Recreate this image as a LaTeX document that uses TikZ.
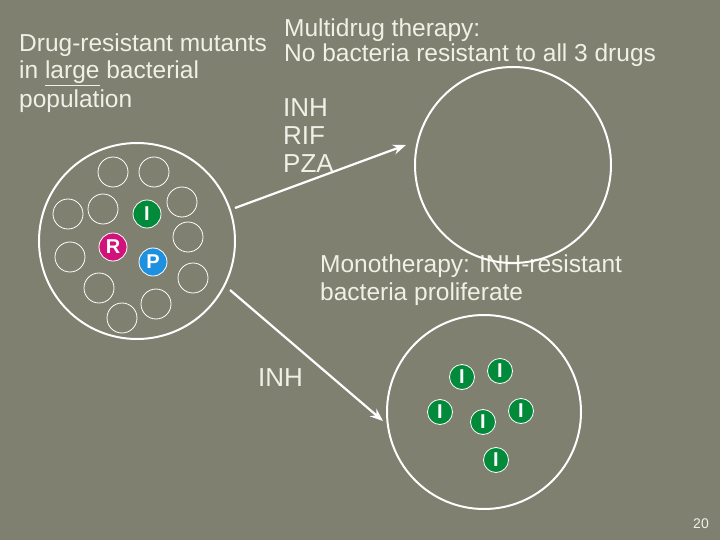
\documentclass[tikz,border=0pt]{standalone}
\usepackage{fontspec}
\setmainfont{Liberation Sans}
\usetikzlibrary{arrows.meta}
\begin{document}
\begin{tikzpicture}[x=1pt,y=-1pt,
  txt/.style={text=fg,font=\fontsize{24.5}{27}\selectfont,inner sep=0pt,anchor=west},
  big/.style={text=fg,font=\fontsize{26}{28}\selectfont,inner sep=0pt,anchor=west},
  cell/.style={circle,draw=white,line width=0.8pt,minimum size=30pt,inner sep=0pt},
  mut/.style={circle,draw=white,line width=0.8pt,minimum size=28pt,inner sep=0pt,text=white,font=\fontsize{20}{20}\selectfont\bfseries},
  host/.style={circle,draw=white,line width=2pt,inner sep=0pt},
  arr/.style={draw=white,line width=2.2pt,-{Stealth[length=13pt,width=10pt]}}]
\definecolor{bg}{HTML}{7F806F}
\definecolor{fg}{HTML}{F0F0E6}
\definecolor{gI}{HTML}{008A3A}
\definecolor{mR}{HTML}{D0127A}
\definecolor{bP}{HTML}{1E90E0}
\fill[bg] (0,0) rectangle (720,540);
\useasboundingbox (0,0) rectangle (720,540);
\node[txt] (t1) at (19,45) {Drug-resistant mutants};
\node[txt] (t2) at (19,73) {in \underline{large} bacterial};
\node[txt] (t3) at (19,101) {population};
\node[txt] (m1) at (284,30) {Multidrug therapy:};
\node[txt] (m2) at (284,55) {No bacteria resistant to all 3 drugs};
\node[big] (d1) at (283,108) {INH};
\node[big] (d2) at (283,136) {RIF};
\node[big] (d3) at (283,164) {PZA};
\node[txt] (o1) at (320,266) {Monotherapy: INH-resistant};
\node[txt] (o2) at (320,294) {bacteria proliferate};
\node[big] (d4) at (258,378) {INH};
\node[text=fg,font=\fontsize{14}{16}\selectfont,inner sep=0pt] (pg) at (701,524) {20};
\node[host,minimum size=196pt] (A) at (137,241) {};
\node[host,minimum size=196pt] (B) at (513,165) {};
\node[host,minimum size=194pt] (C) at (484,412) {};
\foreach \n/\p in {c1/{113,172},c2/{154,172},c3/{182,202},c4/{68,214},c5/{103,209},c6/{188,237},c7/{70,257},c8/{193,278},c9/{99,288},c10/{156,304},c11/{122,318}}
  \node[cell] (\n) at (\p) {};
\node[mut,fill=gI] (I0) at (147,214) {I};
\node[mut,fill=mR] (R0) at (113,247) {R};
\node[mut,fill=bP] (P0) at (153,262) {P};
\foreach \n/\p in {i1/{462,377},i2/{500,371},i3/{440,412},i4/{483,422},i5/{521,411},i6/{496,460}}
  \node[mut,fill=gI,minimum size=25pt] (\n) at (\p) {I};
\coordinate (a1) at (235,208); \coordinate (b1) at (406,145);
\coordinate (a2) at (230,290); \coordinate (b2) at (383,421);
\draw[arr] (a1) -- (b1);
\draw[arr] (a2) -- (b2);
\end{tikzpicture}
\end{document}
